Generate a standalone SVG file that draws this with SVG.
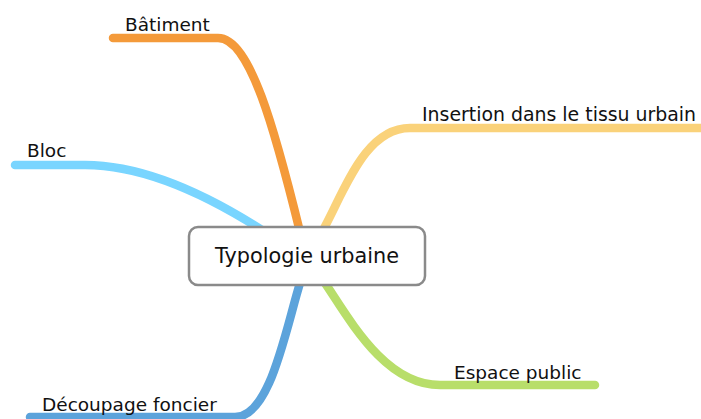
<svg xmlns="http://www.w3.org/2000/svg" width="701" height="419" viewBox="0 0 701 419">
<style>
.br{fill:none;stroke-width:8.5;stroke-linecap:round}
.lbl{font-family:"DejaVu Sans",sans-serif;font-size:18.5px;fill:#111}
.ctr{font-family:"DejaVu Sans",sans-serif;font-size:20.8px;fill:#111;text-anchor:middle}
</style>
<rect width="701" height="419" fill="#fff"/>
<g id="connectors">
<path class="br" stroke="#F49A3A" d="M113,38 H218 C250,38 275,130 300,232"/>
<path class="br" stroke="#79D5FF" d="M15,165 H85 C140,165 200,190 265,232"/>
<path class="br" stroke="#FAD27A" d="M322,232 C345,190 365,128 410,128 H705"/>
<path class="br" stroke="#B8DE6A" d="M325,283 C350,320 385,385 440,385 H595"/>
<path class="br" stroke="#5CA3DB" d="M300,283 C285,332 270,417 235,417 H30"/>
</g>
<g id="n-center">
<rect x="189" y="227" width="236" height="58" rx="9" fill="#fff" stroke="#8a8a8a" stroke-width="2.5"/>
<text class="ctr" x="307" y="263">Typologie urbaine</text>
</g>
<g id="n-batiment"><text class="lbl" x="125" y="31">Bâtiment</text></g>
<g id="n-bloc"><text class="lbl" x="27" y="157">Bloc</text></g>
<g id="n-insertion"><text class="lbl" x="422" y="121" style="font-size:18.9px">Insertion dans le tissu urbain</text></g>
<g id="n-espace"><text class="lbl" x="454" y="379">Espace public</text></g>
<g id="n-decoupage"><text class="lbl" x="42" y="411">Découpage foncier</text></g>
</svg>
